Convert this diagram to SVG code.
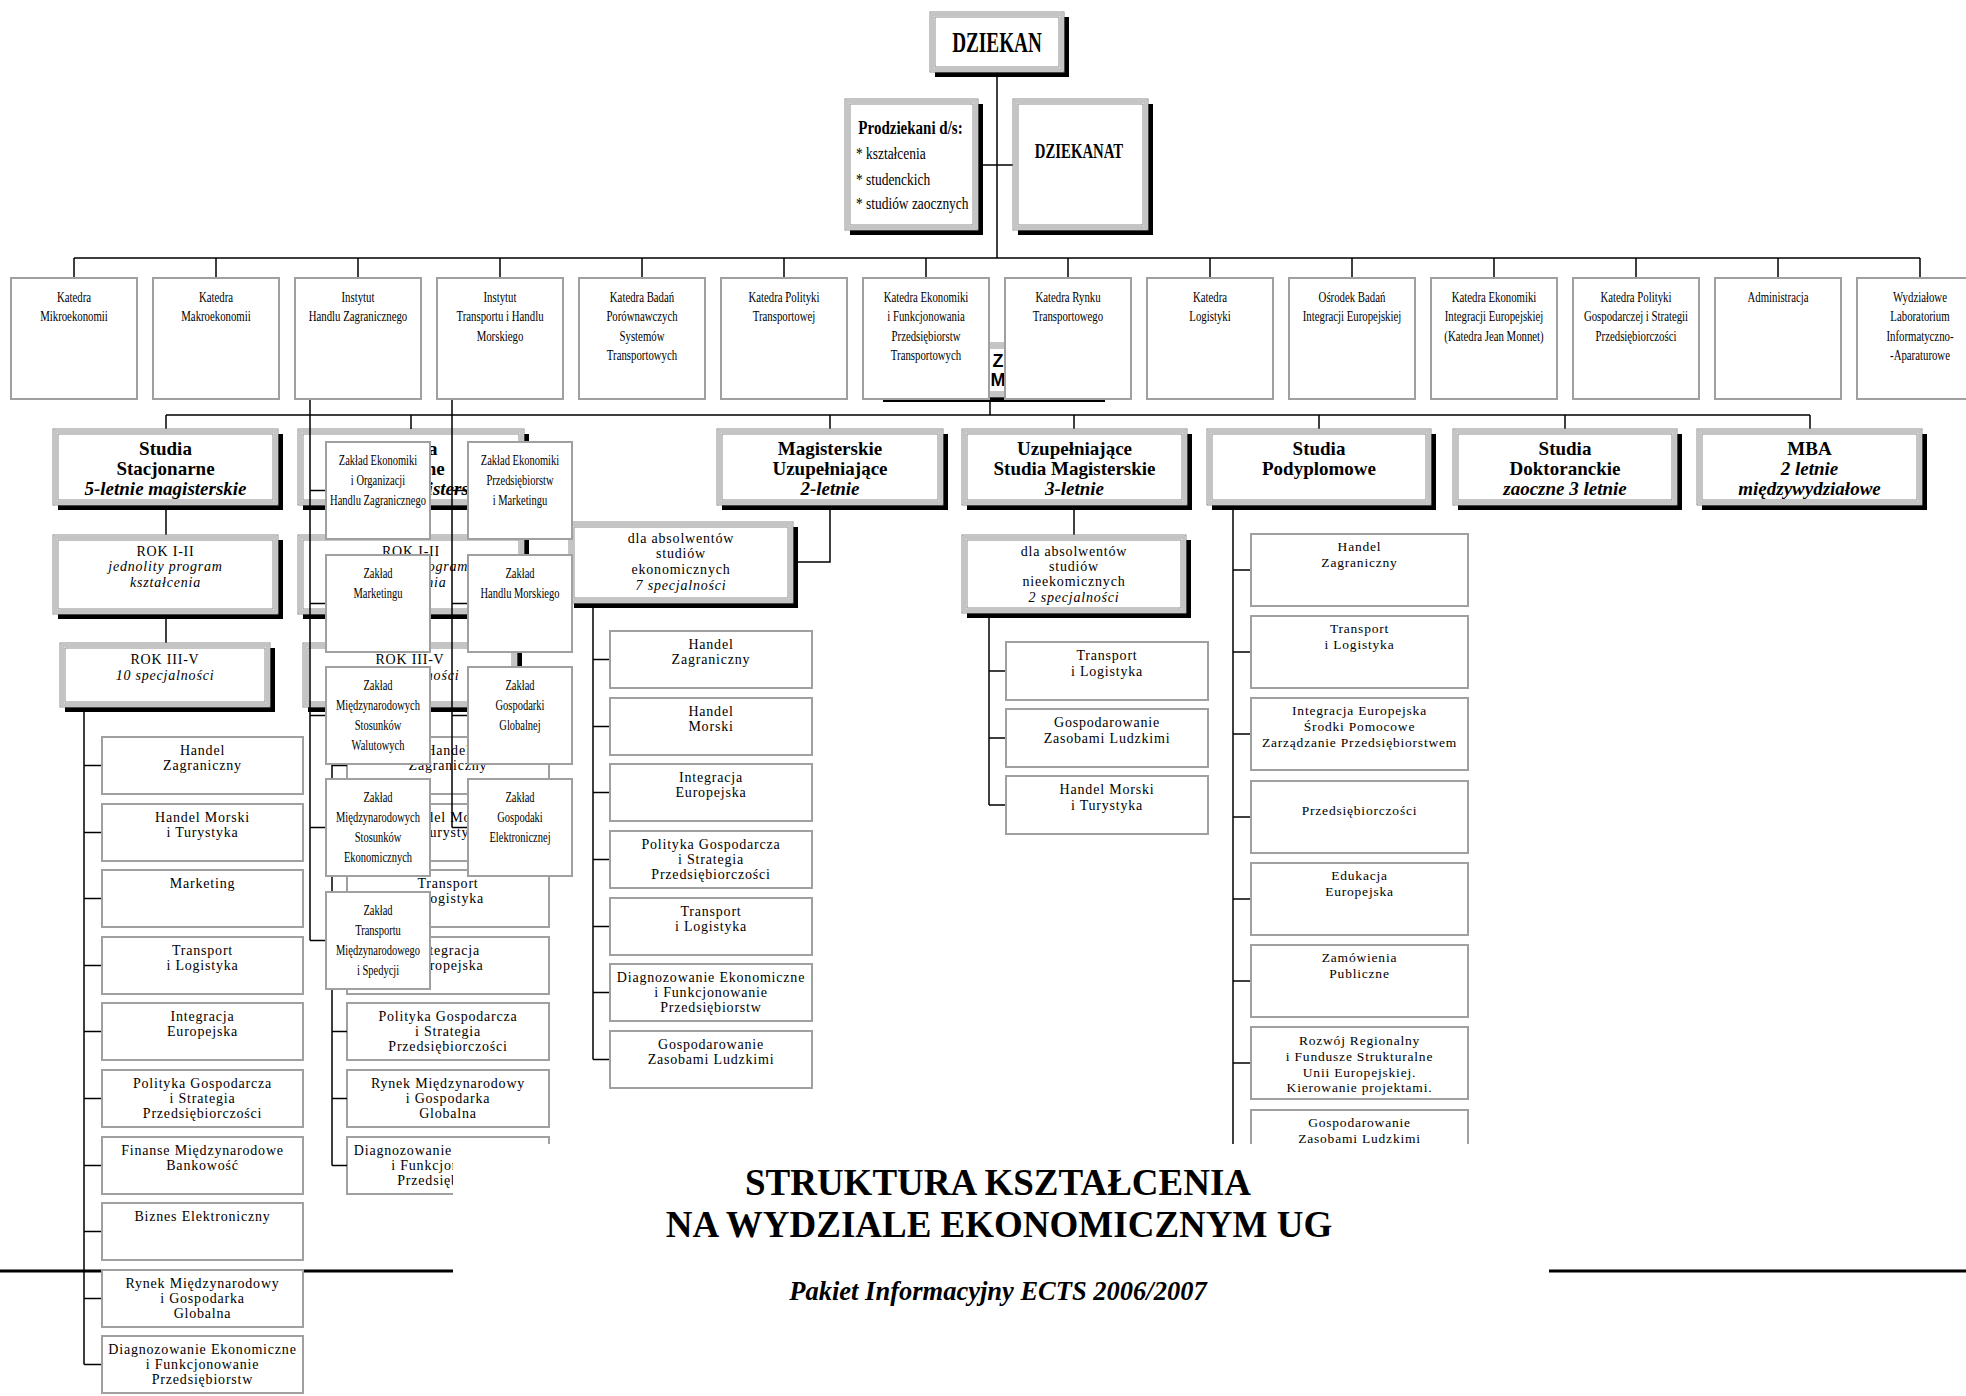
<svg xmlns="http://www.w3.org/2000/svg" width="1966" height="1396" viewBox="0 0 1966 1396">
<style>
.ln{stroke:#000;stroke-width:1.5;fill:none}
.tk{stroke:#000;stroke-width:3;fill:none}
.bx{fill:#fff;stroke:#a0a0a0;stroke-width:2}
.sh{fill:#000}
.o1{fill:#fff;stroke:#8c8c8c;stroke-width:1}
.o2{fill:none;stroke:#c4c4c4;stroke-width:3}
.o3{fill:none;stroke:#8c8c8c;stroke-width:1}
text{font-family:"Liberation Serif","Times New Roman",serif;fill:#000}
.k{font-size:15px;text-anchor:middle}
.s{font-size:14px;letter-spacing:0.8px;text-anchor:middle}
.sp{font-size:13.5px;letter-spacing:0.8px;text-anchor:middle}
.h{font-size:19px;font-weight:bold;text-anchor:middle}
.hi{font-size:19px;font-weight:bold;font-style:italic;text-anchor:middle}
.i{font-style:italic}
.zm{font-family:"Liberation Sans",Arial,sans-serif;font-size:18px;font-weight:bold;text-anchor:middle}
</style>
<rect width="1966" height="1396" fill="#fff"/>

<g id="hidden-wydzial">
<rect class="sh" x="883" y="348" width="222" height="54"/><rect class="o1" x="878" y="343" width="222" height="54"/><rect class="o2" x="880.5" y="345.5" width="217" height="49"/><rect class="o3" x="883" y="348" width="212" height="44"/>
<text class="zm" x="998" y="367">Z</text><text class="zm" x="998" y="386">M</text>
</g>

<g id="studia-zaoczne">
<rect class="sh" x="303" y="434" width="226" height="76"/><rect class="o1" x="298" y="429" width="226" height="76"/><rect class="o2" x="300.5" y="431.5" width="221" height="71"/><rect class="o3" x="303" y="434" width="216" height="66"/>
<text class="h" x="411" y="455">Studia</text><text class="h" x="411" y="475">Zaoczne</text><text class="hi" x="411" y="495">5-letnie magisterskie</text>
<rect class="sh" x="303" y="540" width="226" height="79"/><rect class="o1" x="298" y="535" width="226" height="79"/><rect class="o2" x="300.5" y="537.5" width="221" height="74"/><rect class="o3" x="303" y="540" width="216" height="69"/>
<text class="s" x="411" y="556">ROK I-II</text><text class="s i" x="411" y="571">jednolity program</text><text class="s i" x="411" y="587">kształcenia</text>
<rect class="sh" x="308" y="648" width="214" height="64"/><rect class="o1" x="303" y="643" width="214" height="64"/><rect class="o2" x="305.5" y="645.5" width="209" height="59"/><rect class="o3" x="308" y="648" width="204" height="54"/>
<text class="s" x="410" y="664">ROK III-V</text><text class="s i" x="410" y="680">10 specjalności</text>
<rect class="bx" x="347" y="737" width="202" height="57"/><text class="s" x="448" y="755">Handel</text><text class="s" x="448" y="770">Zagraniczny</text>
<rect class="bx" x="347" y="804" width="202" height="57"/><text class="s" x="448" y="822">Handel Morski</text><text class="s" x="448" y="837">i Turystyka</text>
<rect class="bx" x="347" y="870" width="202" height="57"/><text class="s" x="448" y="888">Transport</text><text class="s" x="448" y="903">i Logistyka</text>
<rect class="bx" x="347" y="937" width="202" height="57"/><text class="s" x="448" y="955">Integracja</text><text class="s" x="448" y="970">Europejska</text>
<rect class="bx" x="347" y="1003" width="202" height="57"/><text class="s" x="448" y="1021">Polityka Gospodarcza</text><text class="s" x="448" y="1036">i Strategia</text><text class="s" x="448" y="1051">Przedsiębiorczości</text>
<rect class="bx" x="347" y="1070" width="202" height="57"/><text class="s" x="448" y="1088">Rynek Międzynarodowy</text><text class="s" x="448" y="1103">i Gospodarka</text><text class="s" x="448" y="1118">Globalna</text>
<rect class="bx" x="347" y="1137" width="202" height="57"/><text class="s" x="448" y="1155">Diagnozowanie Ekonomiczne</text><text class="s" x="448" y="1170">i Funkcjonowanie</text><text class="s" x="448" y="1185">Przedsiębiorstw</text>
</g>

<g id="connectors">
<path class="ln" d="M997 72V258M978 165H1013M74 258H1920"/>
<path class="ln" d="M74 258V278M216 258V278M358 258V278M500 258V278M642 258V278M784 258V278M926 258V278M1068 258V278M1210 258V278M1352 258V278M1494 258V278M1636 258V278M1778 258V278M1920 258V278"/>
<path class="ln" d="M990 402V415M166 415H1810M166 415V429M411 415V429M830 415V429M1074 415V429M1319 415V429M1565 415V429M1810 415V429"/>
<path class="ln" d="M166 510V535M166 619V643M411 510V535M411 619V643"/>
<path class="tk" d="M0 1271H1966"/>
<path class="ln" d="M84 712V1364.5M84 765.5H102M84 832.5H102M84 898.5H102M84 965.5H102M84 1031.5H102M84 1098.5H102M84 1165.5H102M84 1231.5H102M84 1298.5H102M84 1364.5H102"/>
<path class="ln" d="M332 712V1165.5M332 765.5H347M332 832.5H347M332 898.5H347M332 965.5H347M332 1031.5H347M332 1098.5H347M332 1165.5H347"/>
<path class="ln" d="M310 399V940.5M310 490.5H326M310 603.5H326M310 715.5H326M310 827.5H326M310 940.5H326"/>
<path class="ln" d="M452 399V827.5M452 490.5H468M452 603.5H468M452 715.5H468M452 827.5H468"/>
<path class="ln" d="M830 510V562H798"/>
<path class="ln" d="M593 608V1059.5M593 659.5H610M593 726.5H610M593 792.5H610M593 859.5H610M593 926.5H610M593 992.5H610M593 1059.5H610"/>
<path class="ln" d="M1074 510V535M989 618V805M989 671H1006M989 738H1006M989 805H1006"/>
<path class="ln" d="M1233 510V1144M1233 570H1251M1233 652H1251M1233 734H1251M1233 817H1251M1233 899H1251M1233 981H1251M1233 1063H1251"/>
</g>

<g id="dziekan">
<rect class="sh" x="935" y="17" width="134" height="60"/><rect class="o1" x="930" y="12" width="134" height="60"/><rect class="o2" x="932.5" y="14.5" width="129" height="55"/><rect class="o3" x="935" y="17" width="124" height="50"/>
<g transform="translate(997 0) scale(0.64 1)"><text x="0" y="52" style="font-size:30px;font-weight:bold;text-anchor:middle">DZIEKAN</text></g>
</g>
<g id="prodziekani">
<rect class="sh" x="850" y="104" width="133" height="131"/><rect class="o1" x="845" y="99" width="133" height="131"/><rect class="o2" x="847.5" y="101.5" width="128" height="126"/><rect class="o3" x="850" y="104" width="123" height="121"/>
<g transform="translate(856 0) scale(0.79 1)">
<text x="3" y="134" style="font-size:19px;font-weight:bold">Prodziekani d/s:</text>
<text x="0" y="159" style="font-size:17px">* kształcenia</text>
<text x="0" y="185" style="font-size:17px">* studenckich</text>
<text x="0" y="209" style="font-size:17px">* studiów zaocznych</text>
</g>
</g>
<g id="dziekanat">
<rect class="sh" x="1018" y="104" width="135" height="131"/><rect class="o1" x="1013" y="99" width="135" height="131"/><rect class="o2" x="1015.5" y="101.5" width="130" height="126"/><rect class="o3" x="1018" y="104" width="125" height="121"/>
<g transform="translate(1079 0) scale(0.74 1)"><text x="0" y="158" style="font-size:20px;font-weight:bold;text-anchor:middle">DZIEKANAT</text></g>
</g>

<g id="katedry">
<g id="k1"><rect class="bx" x="11" y="278" width="126" height="121"/><g transform="translate(74 0) scale(0.72 1)"><text class="k" x="0" y="302">Katedra</text><text class="k" x="0" y="321.5">Mikroekonomii</text></g></g>
<g id="k2"><rect class="bx" x="153" y="278" width="126" height="121"/><g transform="translate(216 0) scale(0.72 1)"><text class="k" x="0" y="302">Katedra</text><text class="k" x="0" y="321.5">Makroekonomii</text></g></g>
<g id="k3"><rect class="bx" x="295" y="278" width="126" height="121"/><g transform="translate(358 0) scale(0.72 1)"><text class="k" x="0" y="302">Instytut</text><text class="k" x="0" y="321.5">Handlu Zagranicznego</text></g></g>
<g id="k4"><rect class="bx" x="437" y="278" width="126" height="121"/><g transform="translate(500 0) scale(0.72 1)"><text class="k" x="0" y="302">Instytut</text><text class="k" x="0" y="321.5">Transportu i Handlu</text><text class="k" x="0" y="341">Morskiego</text></g></g>
<g id="k5"><rect class="bx" x="579" y="278" width="126" height="121"/><g transform="translate(642 0) scale(0.72 1)"><text class="k" x="0" y="302">Katedra Badań</text><text class="k" x="0" y="321.5">Porównawczych</text><text class="k" x="0" y="341">Systemów</text><text class="k" x="0" y="360.5">Transportowych</text></g></g>
<g id="k6"><rect class="bx" x="721" y="278" width="126" height="121"/><g transform="translate(784 0) scale(0.72 1)"><text class="k" x="0" y="302">Katedra Polityki</text><text class="k" x="0" y="321.5">Transportowej</text></g></g>
<g id="k7"><rect class="bx" x="863" y="278" width="126" height="121"/><g transform="translate(926 0) scale(0.72 1)"><text class="k" x="0" y="302">Katedra Ekonomiki</text><text class="k" x="0" y="321.5">i Funkcjonowania</text><text class="k" x="0" y="341">Przedsiębiorstw</text><text class="k" x="0" y="360.5">Transportowych</text></g></g>
<g id="k8"><rect class="bx" x="1005" y="278" width="126" height="121"/><g transform="translate(1068 0) scale(0.72 1)"><text class="k" x="0" y="302">Katedra Rynku</text><text class="k" x="0" y="321.5">Transportowego</text></g></g>
<g id="k9"><rect class="bx" x="1147" y="278" width="126" height="121"/><g transform="translate(1210 0) scale(0.72 1)"><text class="k" x="0" y="302">Katedra</text><text class="k" x="0" y="321.5">Logistyki</text></g></g>
<g id="k10"><rect class="bx" x="1289" y="278" width="126" height="121"/><g transform="translate(1352 0) scale(0.72 1)"><text class="k" x="0" y="302">Ośrodek Badań</text><text class="k" x="0" y="321.5">Integracji Europejskiej</text></g></g>
<g id="k11"><rect class="bx" x="1431" y="278" width="126" height="121"/><g transform="translate(1494 0) scale(0.72 1)"><text class="k" x="0" y="302">Katedra Ekonomiki</text><text class="k" x="0" y="321.5">Integracji Europejskiej</text><text class="k" x="0" y="341">(Katedra Jean Monnet)</text></g></g>
<g id="k12"><rect class="bx" x="1573" y="278" width="126" height="121"/><g transform="translate(1636 0) scale(0.72 1)"><text class="k" x="0" y="302">Katedra Polityki</text><text class="k" x="0" y="321.5">Gospodarczej i Strategii</text><text class="k" x="0" y="341">Przedsiębiorczości</text></g></g>
<g id="k13"><rect class="bx" x="1715" y="278" width="126" height="121"/><g transform="translate(1778 0) scale(0.72 1)"><text class="k" x="0" y="302">Administracja</text></g></g>
<g id="k14"><rect class="bx" x="1857" y="278" width="126" height="121"/><g transform="translate(1920 0) scale(0.72 1)"><text class="k" x="0" y="302">Wydziałowe</text><text class="k" x="0" y="321.5">Laboratorium</text><text class="k" x="0" y="341">Informatyczno-</text><text class="k" x="0" y="360.5">-Aparaturowe</text></g></g>
</g>

<g id="studia-stacjonarne">
<rect class="sh" x="58" y="434" width="225" height="76"/><rect class="o1" x="53" y="429" width="225" height="76"/><rect class="o2" x="55.5" y="431.5" width="220" height="71"/><rect class="o3" x="58" y="434" width="215" height="66"/>
<text class="h" x="165.5" y="455">Studia</text><text class="h" x="165.5" y="475">Stacjonarne</text><text class="hi" x="165.5" y="495">5-letnie magisterskie</text>
</g>
<g id="rok-1-2">
<rect class="sh" x="58" y="540" width="225" height="79"/><rect class="o1" x="53" y="535" width="225" height="79"/><rect class="o2" x="55.5" y="537.5" width="220" height="74"/><rect class="o3" x="58" y="540" width="215" height="69"/>
<text class="s" x="165.5" y="556">ROK I-II</text><text class="s i" x="165.5" y="571">jednolity program</text><text class="s i" x="165.5" y="587">kształcenia</text>
</g>
<g id="rok-3-5">
<rect class="sh" x="65" y="648" width="210" height="64"/><rect class="o1" x="60" y="643" width="210" height="64"/><rect class="o2" x="62.5" y="645.5" width="205" height="59"/><rect class="o3" x="65" y="648" width="200" height="54"/>
<text class="s" x="165" y="664">ROK III-V</text><text class="s i" x="165" y="680">10 specjalności</text>
</g>
<g id="stacjonarne-specjalnosci">
<rect class="bx" x="102" y="737" width="201" height="57"/><text class="s" x="202.5" y="755">Handel</text><text class="s" x="202.5" y="770">Zagraniczny</text>
<rect class="bx" x="102" y="804" width="201" height="57"/><text class="s" x="202.5" y="822">Handel Morski</text><text class="s" x="202.5" y="837">i Turystyka</text>
<rect class="bx" x="102" y="870" width="201" height="57"/><text class="s" x="202.5" y="888">Marketing</text>
<rect class="bx" x="102" y="937" width="201" height="57"/><text class="s" x="202.5" y="955">Transport</text><text class="s" x="202.5" y="970">i Logistyka</text>
<rect class="bx" x="102" y="1003" width="201" height="57"/><text class="s" x="202.5" y="1021">Integracja</text><text class="s" x="202.5" y="1036">Europejska</text>
<rect class="bx" x="102" y="1070" width="201" height="57"/><text class="s" x="202.5" y="1088">Polityka Gospodarcza</text><text class="s" x="202.5" y="1103">i Strategia</text><text class="s" x="202.5" y="1118">Przedsiębiorczości</text>
<rect class="bx" x="102" y="1137" width="201" height="57"/><text class="s" x="202.5" y="1155">Finanse Międzynarodowe</text><text class="s" x="202.5" y="1170">Bankowość</text>
<rect class="bx" x="102" y="1203" width="201" height="57"/><text class="s" x="202.5" y="1221">Biznes Elektroniczny</text>
<rect class="bx" x="102" y="1270" width="201" height="57"/><text class="s" x="202.5" y="1288">Rynek Międzynarodowy</text><text class="s" x="202.5" y="1303">i Gospodarka</text><text class="s" x="202.5" y="1318">Globalna</text>
<rect class="bx" x="102" y="1336" width="201" height="57"/><text class="s" x="202.5" y="1354">Diagnozowanie Ekonomiczne</text><text class="s" x="202.5" y="1369">i Funkcjonowanie</text><text class="s" x="202.5" y="1384">Przedsiębiorstw</text>
</g>

<g id="magisterskie-uzupelniajace">
<rect class="sh" x="722" y="434" width="226" height="76"/><rect class="o1" x="717" y="429" width="226" height="76"/><rect class="o2" x="719.5" y="431.5" width="221" height="71"/><rect class="o3" x="722" y="434" width="216" height="66"/>
<text class="h" x="830" y="455">Magisterskie</text><text class="h" x="830" y="475">Uzupełniające</text><text class="hi" x="830" y="495">2-letnie</text>
</g>
<g id="mu-absolwenci">
<rect class="sh" x="574" y="527" width="224" height="81"/><rect class="o1" x="569" y="522" width="224" height="81"/><rect class="o2" x="571.5" y="524.5" width="219" height="76"/><rect class="o3" x="574" y="527" width="214" height="71"/>
<text class="s" x="681" y="543">dla absolwentów</text><text class="s" x="681" y="558">studiów</text><text class="s" x="681" y="574">ekonomicznych</text><text class="s i" x="681" y="590">7 specjalności</text>
</g>
<g id="mu-specjalnosci">
<rect class="bx" x="610" y="631" width="202" height="57"/><text class="s" x="711" y="649">Handel</text><text class="s" x="711" y="664">Zagraniczny</text>
<rect class="bx" x="610" y="698" width="202" height="57"/><text class="s" x="711" y="716">Handel</text><text class="s" x="711" y="731">Morski</text>
<rect class="bx" x="610" y="764" width="202" height="57"/><text class="s" x="711" y="782">Integracja</text><text class="s" x="711" y="797">Europejska</text>
<rect class="bx" x="610" y="831" width="202" height="57"/><text class="s" x="711" y="849">Polityka Gospodarcza</text><text class="s" x="711" y="864">i Strategia</text><text class="s" x="711" y="879">Przedsiębiorczości</text>
<rect class="bx" x="610" y="898" width="202" height="57"/><text class="s" x="711" y="916">Transport</text><text class="s" x="711" y="931">i Logistyka</text>
<rect class="bx" x="610" y="964" width="202" height="57"/><text class="s" x="711" y="982">Diagnozowanie Ekonomiczne</text><text class="s" x="711" y="997">i Funkcjonowanie</text><text class="s" x="711" y="1012">Przedsiębiorstw</text>
<rect class="bx" x="610" y="1031" width="202" height="57"/><text class="s" x="711" y="1049">Gospodarowanie</text><text class="s" x="711" y="1064">Zasobami Ludzkimi</text>
</g>

<g id="uzupelniajace-studia-magisterskie">
<rect class="sh" x="967" y="434" width="225" height="76"/><rect class="o1" x="962" y="429" width="225" height="76"/><rect class="o2" x="964.5" y="431.5" width="220" height="71"/><rect class="o3" x="967" y="434" width="215" height="66"/>
<text class="h" x="1074.5" y="455">Uzupełniające</text><text class="h" x="1074.5" y="475">Studia Magisterskie</text><text class="hi" x="1074.5" y="495">3-letnie</text>
</g>
<g id="usm-absolwenci">
<rect class="sh" x="967" y="540" width="224" height="78"/><rect class="o1" x="962" y="535" width="224" height="78"/><rect class="o2" x="964.5" y="537.5" width="219" height="73"/><rect class="o3" x="967" y="540" width="214" height="68"/>
<text class="s" x="1074" y="556">dla absolwentów</text><text class="s" x="1074" y="571">studiów</text><text class="s" x="1074" y="586">nieekomicznych</text><text class="s i" x="1074" y="602">2 specjalności</text>
</g>
<g id="usm-specjalnosci">
<rect class="bx" x="1006" y="642" width="202" height="58"/><text class="s" x="1107" y="660">Transport</text><text class="s" x="1107" y="676">i Logistyka</text>
<rect class="bx" x="1006" y="709" width="202" height="58"/><text class="s" x="1107" y="727">Gospodarowanie</text><text class="s" x="1107" y="743">Zasobami Ludzkimi</text>
<rect class="bx" x="1006" y="776" width="202" height="58"/><text class="s" x="1107" y="794">Handel Morski</text><text class="s" x="1107" y="810">i Turystyka</text>
</g>

<g id="studia-podyplomowe">
<rect class="sh" x="1212" y="434" width="224" height="76"/><rect class="o1" x="1207" y="429" width="224" height="76"/><rect class="o2" x="1209.5" y="431.5" width="219" height="71"/><rect class="o3" x="1212" y="434" width="214" height="66"/>
<text class="h" x="1319" y="455">Studia</text><text class="h" x="1319" y="475">Podyplomowe</text>
</g>
<g id="podyplomowe-kierunki">
<rect class="bx" x="1251" y="534" width="217" height="72"/><text class="sp" x="1359.5" y="551">Handel</text><text class="sp" x="1359.5" y="567">Zagraniczny</text>
<rect class="bx" x="1251" y="616" width="217" height="72"/><text class="sp" x="1359.5" y="633">Transport</text><text class="sp" x="1359.5" y="649">i Logistyka</text>
<rect class="bx" x="1251" y="698" width="217" height="72"/><text class="sp" x="1359.5" y="715">Integracja Europejska</text><text class="sp" x="1359.5" y="731">Środki Pomocowe</text><text class="sp" x="1359.5" y="747">Zarządzanie Przedsiębiorstwem</text>
<rect class="bx" x="1251" y="781" width="217" height="72"/><text class="sp" x="1359.5" y="815">Przedsiębiorczości</text>
<rect class="bx" x="1251" y="863" width="217" height="72"/><text class="sp" x="1359.5" y="880">Edukacja</text><text class="sp" x="1359.5" y="896">Europejska</text>
<rect class="bx" x="1251" y="945" width="217" height="72"/><text class="sp" x="1359.5" y="962">Zamówienia</text><text class="sp" x="1359.5" y="978">Publiczne</text>
<rect class="bx" x="1251" y="1027" width="217" height="72"/><text class="sp" x="1359.5" y="1045">Rozwój Regionalny</text><text class="sp" x="1359.5" y="1061">i Fundusze Strukturalne</text><text class="sp" x="1359.5" y="1077">Unii Europejskiej.</text><text class="sp" x="1359.5" y="1092">Kierowanie projektami.</text>
<rect class="bx" x="1251" y="1110" width="217" height="72"/><text class="sp" x="1359.5" y="1127">Gospodarowanie</text><text class="sp" x="1359.5" y="1143">Zasobami Ludzkimi</text>
</g>

<g id="studia-doktoranckie">
<rect class="sh" x="1458" y="434" width="224" height="76"/><rect class="o1" x="1453" y="429" width="224" height="76"/><rect class="o2" x="1455.5" y="431.5" width="219" height="71"/><rect class="o3" x="1458" y="434" width="214" height="66"/>
<text class="h" x="1565" y="455">Studia</text><text class="h" x="1565" y="475">Doktoranckie</text><text class="hi" x="1565" y="495">zaoczne 3 letnie</text>
</g>
<g id="mba">
<rect class="sh" x="1702" y="434" width="225" height="76"/><rect class="o1" x="1697" y="429" width="225" height="76"/><rect class="o2" x="1699.5" y="431.5" width="220" height="71"/><rect class="o3" x="1702" y="434" width="215" height="66"/>
<text class="h" x="1809.5" y="455">MBA</text><text class="hi" x="1809.5" y="475">2 letnie</text><text class="hi" x="1809.5" y="495">międzywydziałowe</text>
</g>

<g id="zaklady">
<g id="z1"><rect class="bx" x="326" y="442" width="104" height="97"/><g transform="translate(378 0) scale(0.7 1)"><text class="k" x="0" y="465">Zakład Ekonomiki</text><text class="k" x="0" y="485">i Organizacji</text><text class="k" x="0" y="505">Handlu Zagranicznego</text></g></g>
<g id="z2"><rect class="bx" x="326" y="555" width="104" height="97"/><g transform="translate(378 0) scale(0.7 1)"><text class="k" x="0" y="578">Zakład</text><text class="k" x="0" y="598">Marketingu</text></g></g>
<g id="z3"><rect class="bx" x="326" y="667" width="104" height="97"/><g transform="translate(378 0) scale(0.7 1)"><text class="k" x="0" y="690">Zakład</text><text class="k" x="0" y="710">Międzynarodowych</text><text class="k" x="0" y="730">Stosunków</text><text class="k" x="0" y="750">Walutowych</text></g></g>
<g id="z4"><rect class="bx" x="326" y="779" width="104" height="97"/><g transform="translate(378 0) scale(0.7 1)"><text class="k" x="0" y="802">Zakład</text><text class="k" x="0" y="822">Międzynarodowych</text><text class="k" x="0" y="842">Stosunków</text><text class="k" x="0" y="862">Ekonomicznych</text></g></g>
<g id="z5"><rect class="bx" x="326" y="892" width="104" height="97"/><g transform="translate(378 0) scale(0.7 1)"><text class="k" x="0" y="915">Zakład</text><text class="k" x="0" y="935">Transportu</text><text class="k" x="0" y="955">Międzynarodowego</text><text class="k" x="0" y="975">i Spedycji</text></g></g>
<g id="r1"><rect class="bx" x="468" y="442" width="104" height="97"/><g transform="translate(520 0) scale(0.7 1)"><text class="k" x="0" y="465">Zakład Ekonomiki</text><text class="k" x="0" y="485">Przedsiębiorstw</text><text class="k" x="0" y="505">i Marketingu</text></g></g>
<g id="r2"><rect class="bx" x="468" y="555" width="104" height="97"/><g transform="translate(520 0) scale(0.7 1)"><text class="k" x="0" y="578">Zakład</text><text class="k" x="0" y="598">Handlu Morskiego</text></g></g>
<g id="r3"><rect class="bx" x="468" y="667" width="104" height="97"/><g transform="translate(520 0) scale(0.7 1)"><text class="k" x="0" y="690">Zakład</text><text class="k" x="0" y="710">Gospodarki</text><text class="k" x="0" y="730">Globalnej</text></g></g>
<g id="r4"><rect class="bx" x="468" y="779" width="104" height="97"/><g transform="translate(520 0) scale(0.7 1)"><text class="k" x="0" y="802">Zakład</text><text class="k" x="0" y="822">Gospodaki</text><text class="k" x="0" y="842">Elektronicznej</text></g></g>
</g>

<g id="title">
<rect x="453" y="1144" width="1096" height="252" fill="#fff"/>
<text x="998" y="1195" style="font-size:37px;font-weight:bold;text-anchor:middle">STRUKTURA KSZTAŁCENIA</text>
<text x="999" y="1237" style="font-size:37px;font-weight:bold;text-anchor:middle">NA WYDZIALE EKONOMICZNYM UG</text>
<text x="998" y="1300" style="font-size:26.5px;font-weight:bold;font-style:italic;text-anchor:middle">Pakiet Informacyjny ECTS 2006/2007</text>
</g>
</svg>
